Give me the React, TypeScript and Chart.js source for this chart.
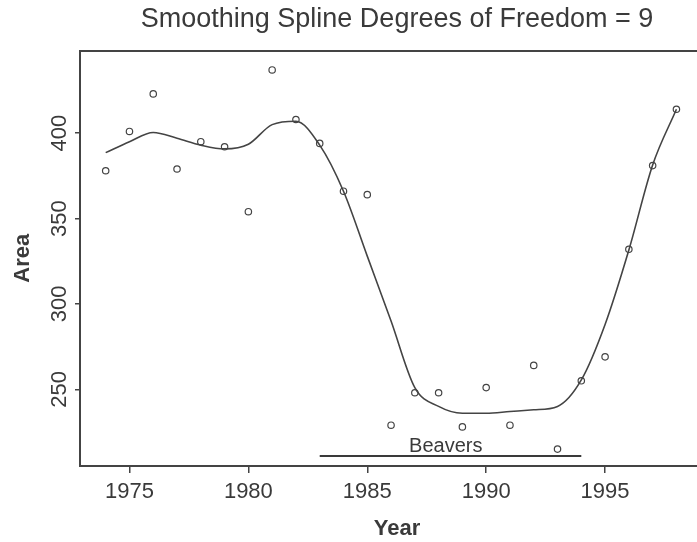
import React, { useEffect, useRef } from "react";
import { Chart, registerables } from "chart.js";

Chart.register(...registerables);

const TITLE = "Smoothing Spline Degrees of Freedom = 9";
const X_LABEL = "Year";
const Y_LABEL = "Area";

const years = [1974, 1975, 1976, 1977, 1978, 1979, 1980, 1981, 1982, 1983, 1984, 1985, 1986,
  1987, 1988, 1989, 1990, 1991, 1992, 1993, 1994, 1995, 1996, 1997, 1998];
const area = [378, 401, 423, 379, 395, 392, 354, 437, 408, 394, 366, 364, 229,
  248, 248, 228, 251, 229, 264, 215, 255, 269, 332, 381, 414];
const smoothFit = [388.6, 395, 400.4, 397, 393, 390.8, 393.5, 405, 407, 393, 366, 328, 290,
  251, 240, 236, 236, 237, 238, 240, 255.5, 288, 331.6, 381.4, 414];

const xTicks = [1975, 1980, 1985, 1990, 1995];
const yTicks = [250, 300, 350, 400];

const beaversLabel = "Beavers";
const beaversStart = 1983;
const beaversEnd = 1994;
const beaversLevel = 211;
const beaversLabelX = 1988.3;

const X_MIN = 1972.92;
const X_MAX = 1999.58;
const Y_MIN = 205.1;
const Y_MAX = 448.4;

const INK = "#3a3a3a";
const LINE = "#444444";
const FONT = "'Liberation Sans', Arial, Helvetica, sans-serif";

const beaversPlugin = {
  id: "beaversLabel",
  afterDatasetsDraw(chart: any) {
    const { ctx, scales } = chart;
    const px = scales.x.getPixelForValue(beaversLabelX);
    const py = scales.y.getPixelForValue(beaversLevel);
    ctx.save();
    ctx.font = `20px ${FONT}`;
    ctx.fillStyle = INK;
    ctx.textAlign = "center";
    ctx.textBaseline = "alphabetic";
    ctx.fillText(beaversLabel, px, py - 3.5);
    ctx.restore();
  },
};

export default function App() {
  const ref = useRef<HTMLCanvasElement | null>(null);

  useEffect(() => {
    if (!ref.current) return;
    Chart.defaults.font.family = FONT;
    Chart.defaults.color = INK;

    const chart = new Chart(ref.current, {
      type: "line",
      data: {
        datasets: [
          {
            type: "scatter" as any,
            label: "Area",
            data: years.map((yr, i) => ({ x: yr, y: area[i] })),
            showLine: false,
            pointStyle: "circle",
            pointRadius: 3.2,
            pointBorderWidth: 1.2,
            pointBorderColor: LINE,
            pointBackgroundColor: "rgba(0,0,0,0)",
            borderColor: LINE,
            backgroundColor: "rgba(0,0,0,0)",
          },
          {
            label: "Smoothing spline",
            data: years.map((yr, i) => ({ x: yr, y: smoothFit[i] })),
            borderColor: LINE,
            borderWidth: 1.6,
            pointRadius: 0,
            fill: false,
            cubicInterpolationMode: "monotone",
          },
          {
            label: "Beavers",
            data: [
              { x: beaversStart, y: beaversLevel },
              { x: beaversEnd, y: beaversLevel },
            ],
            borderColor: INK,
            borderWidth: 2,
            pointRadius: 0,
            fill: false,
          },
        ],
      },
      options: {
        animation: false,
        responsive: true,
        maintainAspectRatio: false,
        layout: { padding: { left: 0, right: 16, top: 0, bottom: 0 } },
        plugins: {
          legend: { display: false },
          tooltip: { enabled: false },
          title: {
            display: true,
            text: TITLE,
            fullSize: false,
            color: INK,
            font: { size: 27, weight: "normal", family: FONT },
            padding: { top: 3, bottom: 15.1 },
          },
        },
        scales: {
          x: {
            type: "linear",
            position: "bottom",
            min: X_MIN,
            max: X_MAX,
            afterBuildTicks: (s: any) => {
              s.ticks = xTicks.map((v) => ({ value: v }));
            },
            afterFit: (s: any) => {
              s.height = 76;
            },
            ticks: {
              color: INK,
              font: { size: 22 },
              padding: 6,
              maxRotation: 0,
              minRotation: 0,
              callback: (v: any) => String(v),
            },
            grid: {
              display: true,
              drawOnChartArea: false,
              drawTicks: true,
              tickLength: 7,
              color: LINE,
              tickColor: LINE,
              lineWidth: 1.5,
              tickWidth: 1.5,
            },
            border: { display: true, color: LINE, width: 2 },
            title: {
              display: true,
              text: X_LABEL,
              color: INK,
              font: { size: 22, weight: "bold" },
              padding: { top: 0, bottom: 0 },
            },
          },
          xTop: {
            type: "linear",
            position: "top",
            min: X_MIN,
            max: X_MAX,
            afterFit: (s: any) => {
              s.height = 0;
            },
            ticks: { display: false },
            grid: { display: false, drawTicks: false },
            border: { display: true, color: LINE, width: 2 },
          },
          y: {
            type: "linear",
            position: "left",
            min: Y_MIN,
            max: Y_MAX,
            afterBuildTicks: (s: any) => {
              s.ticks = yTicks.map((v) => ({ value: v }));
            },
            afterFit: (s: any) => {
              s.width = 80;
            },
            ticks: {
              color: INK,
              font: { size: 22 },
              padding: -3.3,
              minRotation: 90,
              maxRotation: 90,
              crossAlign: "center",
              callback: (v: any) => String(v),
            },
            grid: {
              display: true,
              drawOnChartArea: false,
              drawTicks: true,
              tickLength: 5,
              color: LINE,
              tickColor: LINE,
              lineWidth: 1.5,
              tickWidth: 1.5,
            },
            border: { display: true, color: LINE, width: 2 },
            title: {
              display: true,
              text: Y_LABEL,
              color: INK,
              font: { size: 22, weight: "bold" },
              padding: { top: 10, bottom: 0 },
            },
          },
        },
      } as any,
      plugins: [beaversPlugin],
    });

    return () => chart.destroy();
  }, []);

  return (
    <div
      style={{
        position: "fixed",
        left: 0,
        top: 0,
        width: 697,
        height: 542,
        overflow: "hidden",
        background: "#fff",
      }}
    >
      <div style={{ position: "relative", width: 730, height: 542 }}>
        <canvas ref={ref} />
      </div>
    </div>
  );
}
